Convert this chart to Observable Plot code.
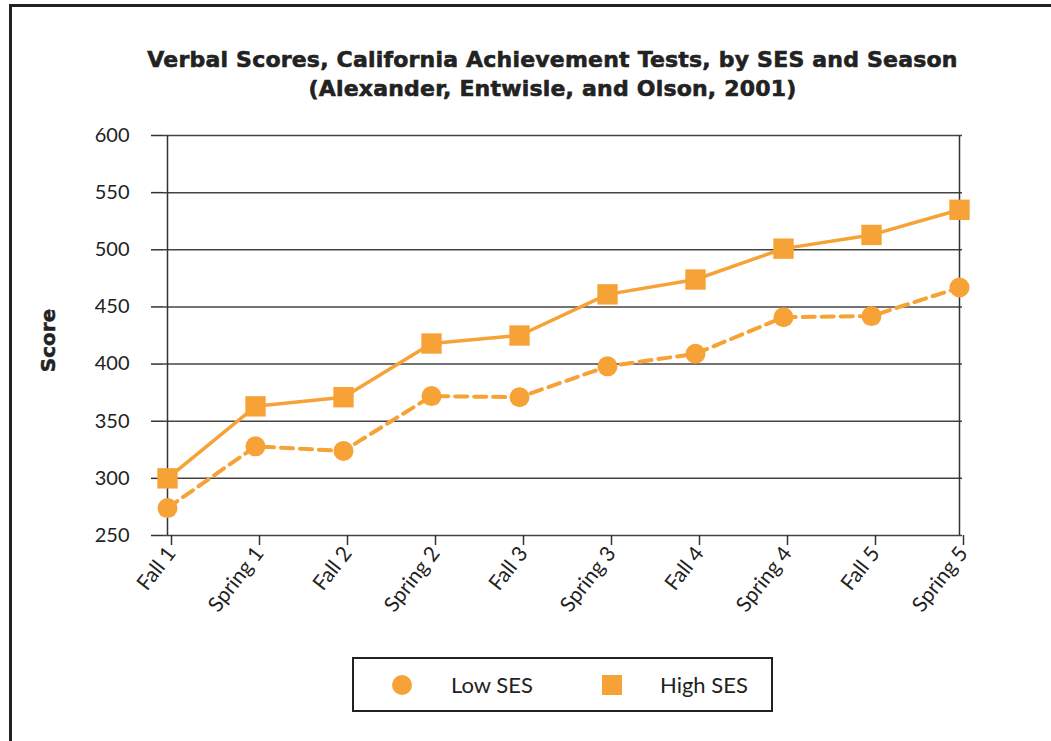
<!DOCTYPE html>
<html><head><meta charset="utf-8">
<script src="https://cdn.jsdelivr.net/npm/d3@7"></script>
<script src="https://cdn.jsdelivr.net/npm/@observablehq/plot@0.6"></script>
<style>
body{margin:0;background:#fff;width:1051px;height:741px;overflow:hidden;position:relative;font-family:Lato,"Open Sans",sans-serif}
#frame{position:absolute;left:9px;top:4px;width:1100px;height:800px;border-left:3px solid #222;border-top:3px solid #222}
#title{position:absolute;left:0;width:1105px;top:45px;text-align:center;font-family:"DejaVu Sans",sans-serif;font-weight:bold;font-size:22px;line-height:29px;color:#222;letter-spacing:0.2px;-webkit-text-stroke:0.6px #222}
#chart{position:absolute;left:0;top:115px}
#legend{position:absolute;left:352px;top:657px;width:417px;height:51px;border:2px solid #222;font-size:22px;color:#222}
.li{position:absolute;top:0;height:51px;line-height:51px}
.sym{position:absolute;background:#F6A236}
</style></head>
<body>
<div id="frame"></div>
<div id="title">Verbal Scores, California Achievement Tests, by SES and Season<br>(Alexander, Entwisle, and Olson, 2001)</div>
<div id="chart"></div>
<div id="legend"></div>
<script>
const seasons = ["Fall 1","Spring 1","Fall 2","Spring 2","Fall 3","Spring 3","Fall 4","Spring 4","Fall 5","Spring 5"];
const lowSES  = [274, 328, 324, 372, 371, 398, 409, 441, 442, 467];
const highSES = [300, 363, 371, 418, 425, 461, 474, 501, 513, 535];
const yTicks = [250, 300, 350, 400, 450, 500, 550, 600];
const seriesNames = ["Low SES", "High SES"];
const orange = "#F6A236";

const low = seasons.map((s, i) => ({season: s, score: lowSES[i]}));
const high = seasons.map((s, i) => ({season: s, score: highSES[i]}));

const chart = Plot.plot({
  width: 1051, height: 500,
  marginLeft: 163, marginRight: 89, marginTop: 20, marginBottom: 80,
  style: {fontFamily: "Lato, sans-serif", fontSize: "20px", color: "#222", background: "transparent"},
  x: {type: "point", domain: seasons, padding: 0},
  y: {domain: [250, 600]},
  marks: [
    Plot.ruleY(yTicks, {stroke: "#444", strokeWidth: 1.5}),
    Plot.ruleX([seasons[0], seasons[seasons.length - 1]], {y1: 250, y2: 600, stroke: "#333", strokeWidth: 1.5}),
    Plot.axisY({ticks: yTicks, tickSize: 12, tickPadding: 22, stroke: "#333", strokeWidth: 1.5, label: null, fontSize: 20}),
    Plot.axisX({tickSize: 10, tickRotate: -52, tickPadding: 4, stroke: "#333", strokeWidth: 1.5, label: null, fontSize: 21, dx: 4}),
    Plot.text(["Score"], {frameAnchor: "left", dx: -115, dy: 5, rotate: -90, textAnchor: "middle", fontWeight: "bold", fontSize: 20, fontFamily: "DejaVu Sans", fill: "#222", stroke: "#222", strokeWidth: 0.5}),
    Plot.line(low, {x: "season", y: "score", stroke: orange, strokeWidth: 4, strokeDasharray: "12,7"}),
    Plot.line(high, {x: "season", y: "score", stroke: orange, strokeWidth: 3.5}),
    Plot.dot(low, {x: "season", y: "score", fill: orange, r: 10, symbol: "circle"}),
    Plot.dot(high, {x: "season", y: "score", fill: orange, r: 11.5, symbol: "square"})
  ]
});
document.getElementById("chart").appendChild(chart);

const legend = document.getElementById("legend");
legend.innerHTML =
  `<div class="sym" style="left:38px;top:16px;width:20px;height:20px;border-radius:50%"></div>` +
  `<div class="li" style="left:97px">${seriesNames[0]}</div>` +
  `<div class="sym" style="left:248px;top:16px;width:20px;height:20px"></div>` +
  `<div class="li" style="left:306px">${seriesNames[1]}</div>`;
</script>
</body></html>
